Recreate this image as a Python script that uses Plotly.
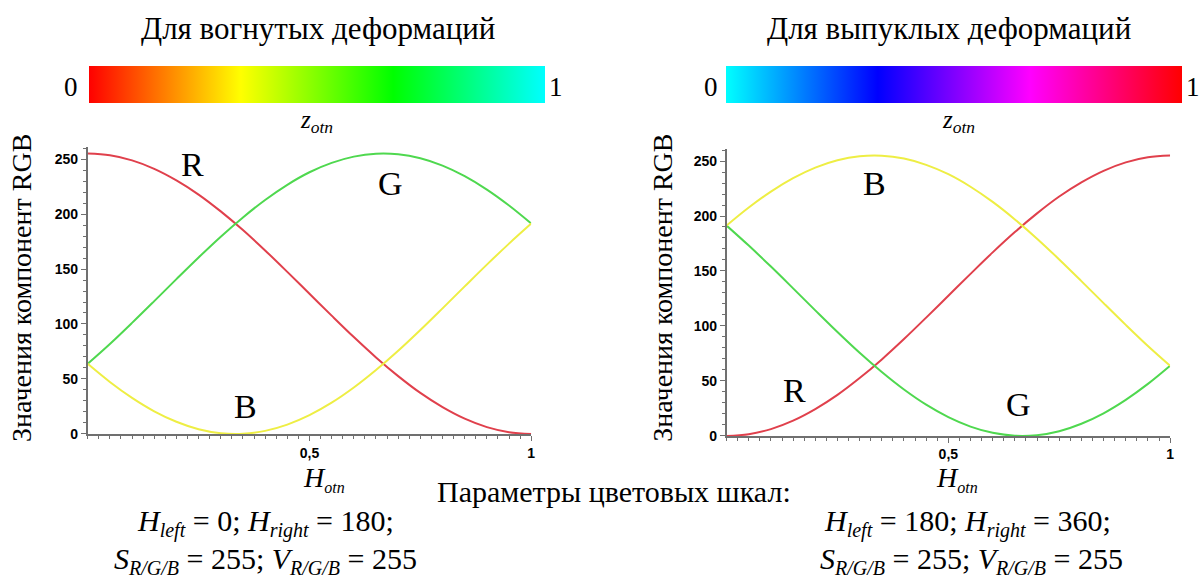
import plotly.graph_objects as go

# ---- data ----
h_otn = [0.0, 0.05, 0.1, 0.15, 0.2, 0.25, 0.3, 0.35, 0.4, 0.45, 0.5,
         0.55, 0.6, 0.65, 0.7, 0.75, 0.8, 0.85, 0.9, 0.95, 1.0]

# concave deformations (left)
r_left = [255.0, 253.4, 248.8, 241.1, 230.6, 217.7, 202.4, 185.4, 166.9, 147.4, 127.5,
          107.6, 88.1, 69.6, 52.6, 37.3, 24.4, 13.9, 6.2, 1.6, 0.0]
g_left = [63.8, 81.8, 101.0, 120.8, 140.8, 160.5, 179.4, 196.9, 212.8, 226.6, 238.0,
          246.5, 252.2, 254.8, 254.3, 250.7, 244.0, 234.4, 222.2, 207.7, 191.3]
b_left = [63.8, 47.3, 32.8, 20.6, 11.1, 4.3, 0.7, 0.2, 2.8, 8.5, 17.1,
          28.4, 42.2, 58.1, 75.6, 94.5, 114.2, 134.2, 154.0, 173.1, 191.3]

# convex deformations (right)
r_right = [0.0, 1.6, 6.2, 13.9, 24.4, 37.3, 52.6, 69.6, 88.1, 107.6, 127.5,
           147.4, 166.9, 185.4, 202.4, 217.7, 230.6, 241.1, 248.8, 253.4, 255.0]
g_right = [191.3, 173.1, 154.0, 134.2, 114.2, 94.5, 75.6, 58.1, 42.2, 28.4, 17.1,
           8.5, 2.8, 0.2, 0.7, 4.3, 11.1, 20.6, 32.8, 47.3, 63.8]
b_right = [191.3, 207.7, 222.2, 234.4, 244.0, 250.7, 254.3, 254.8, 252.2, 246.5, 238.0,
           226.6, 212.8, 196.9, 179.4, 160.5, 140.8, 120.8, 101.0, 81.8, 63.8]

y_ticks = [0, 50, 100, 150, 200, 250]
x_ticks = [0.5, 1]
x_tick_text = ["0,5", "1"]

scale_left = [[0.0, "#ff0000"], [0.333, "#ffff00"], [0.667, "#00ff00"], [1.0, "#00ffff"]]
scale_right = [[0.0, "#00ffff"], [0.333, "#0000ff"], [0.667, "#ff00ff"], [1.0, "#ff0000"]]

RED = "#e0404c"
GREEN = "#4fd84f"
YELLOW = "#eeee44"

W, H = 1203, 582
SERIF = "Liberation Serif, Times New Roman, DejaVu Serif, serif"


def px(x):
    return x / W


def py(y):
    return 1 - y / H


fig = go.Figure()

for name, ys, col in [("R", r_left, RED), ("G", g_left, GREEN), ("B", b_left, YELLOW)]:
    fig.add_trace(go.Scatter(x=h_otn, y=ys, mode="lines", line=dict(color=col, width=2, shape="spline"),
                             xaxis="x", yaxis="y", showlegend=False, name=name))
for name, ys, col in [("R", r_right, RED), ("G", g_right, GREEN), ("B", b_right, YELLOW)]:
    fig.add_trace(go.Scatter(x=h_otn, y=ys, mode="lines", line=dict(color=col, width=2, shape="spline"),
                             xaxis="x2", yaxis="y2", showlegend=False, name=name))

# colour bars (carried by invisible marker traces)
for ax, sc, cx in [("", scale_left, 318), ("2", scale_right, 957)]:
    fig.add_trace(go.Scatter(
        x=[0.5, 0.5], y=[-500, -500], mode="markers",
        xaxis="x" + ax, yaxis="y" + ax, showlegend=False, hoverinfo="skip",
        marker=dict(color=[0, 1], cmin=0, cmax=1, colorscale=sc, opacity=0, size=1,
                    showscale=True,
                    colorbar=dict(orientation="h", x=px(cx), xanchor="center",
                                  y=py(67), yanchor="top", len=456, lenmode="pixels",
                                  thickness=37, thicknessmode="pixels", outlinewidth=0,
                                  xpad=0, ypad=0, showticklabels=False, ticks=""))))

axis_common = dict(showline=True, linecolor="#707070", linewidth=1.5, ticks="outside",
                   tickcolor="#707070", ticklen=5, showgrid=False, zeroline=False,
                   tickfont=dict(family="Liberation Sans, Arial, sans-serif", size=14,
                                 color="black", weight="bold"))
minor_x = dict(dtick=0.025, ticks="outside", ticklen=3, tickcolor="#707070")
minor_y = dict(dtick=10, ticks="outside", ticklen=3, tickcolor="#707070")

fig.update_layout(
    width=W, height=H, margin=dict(l=0, r=0, t=0, b=0),
    paper_bgcolor="white", plot_bgcolor="white",
    xaxis=dict(domain=[px(88), px(533)], range=[0, 1], anchor="y", tickvals=x_ticks,
               ticktext=x_tick_text, minor=minor_x, **axis_common),
    yaxis=dict(domain=[py(440), py(149)], range=[0, 261], anchor="x", tickvals=y_ticks,
               minor=minor_y, **axis_common),
    xaxis2=dict(domain=[px(729), px(1174)], range=[0, 1], anchor="y2", tickvals=x_ticks,
                ticktext=x_tick_text, minor=minor_x, **axis_common),
    yaxis2=dict(domain=[py(442), py(151)], range=[0, 261], anchor="x2", tickvals=y_ticks,
                minor=minor_y, **axis_common),
)


def ann(text, x, y, size, xref="paper", yref="paper", angle=0, italic=False):
    t = f"<i>{text}</i>" if italic else text
    fig.add_annotation(text=t, x=x, y=y, xref=xref, yref=yref, showarrow=False,
                       xanchor="center", yanchor="middle", textangle=angle,
                       font=dict(family=SERIF, size=size, color="black"))


# titles
ann("Для вогнутых деформаций", px(319), py(29), 31)
ann("Для выпуклых деформаций", px(952), py(29), 31)
# colour bar end labels
ann("0", px(71), py(88), 27)
ann("1", px(558), py(88), 27)
ann("0", px(713), py(88), 27)
ann("1", px(1197), py(88), 27)
# z_otn
ann("z<sub>otn</sub>", px(318), py(123), 25, italic=True)
ann("z<sub>otn</sub>", px(962), py(123), 25, italic=True)
# y-axis titles
ann("Значения компонент RGB", px(22), py(292), 28, angle=-90)
ann("Значения компонент RGB", px(665), py(292), 28, angle=-90)
# x-axis titles
ann("H<sub><span style='font-size:16px'>otn</span></sub>", px(325), py(486), 28, italic=True)
ann("H<sub><span style='font-size:16px'>otn</span></sub>", px(960), py(486), 28, italic=True)
# curve labels
for txt, x, y in [("R", 0.236, 245), ("G", 0.683, 228), ("B", 0.355, 25)]:
    ann(txt, x, y, 34, xref="x", yref="y")
for txt, x, y in [("B", 0.333, 230), ("R", 0.153, 41), ("G", 0.658, 29)]:
    ann(txt, x, y, 34, xref="x2", yref="y2")

# parameters text
ann("Параметры цветовых шкал:", px(616), py(498), 30)
sub = "<sub><span style='font-size:20px'>{}</span></sub>"
ann("<i>H</i>" + sub.format("<i>left</i>") + " = 0; <i>H</i>" + sub.format("<i>right</i>") + " = 180;",
    px(266), py(530), 30)
ann("<i>S</i>" + sub.format("<i>R/G/B</i>") + " = 255; <i>V</i>" + sub.format("<i>R/G/B</i>") + " = 255",
    px(266), py(568), 30)
ann("<i>H</i>" + sub.format("<i>left</i>") + " = 180; <i>H</i>" + sub.format("<i>right</i>") + " = 360;",
    px(971), py(530), 30)
ann("<i>S</i>" + sub.format("<i>R/G/B</i>") + " = 255; <i>V</i>" + sub.format("<i>R/G/B</i>") + " = 255",
    px(975), py(568), 30)

fig.write_html("out.html")
